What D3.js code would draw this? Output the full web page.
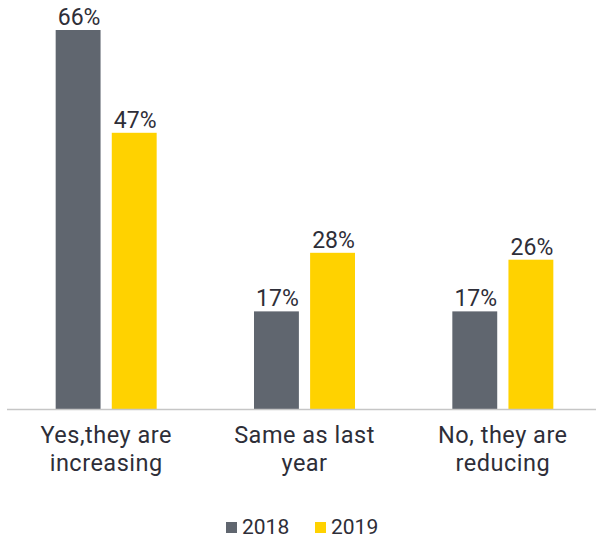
<!DOCTYPE html>
<html><head><meta charset="utf-8">
<script src="https://cdn.jsdelivr.net/npm/d3@7"></script>
<style>
html,body{margin:0;padding:0;background:#fff;}
text{font-family:Roboto,"Noto Sans",sans-serif;fill:#2e2e38;}
</style></head>
<body><svg id="c" width="596" height="538"></svg>
<script>
const categories = [["Yes,they are","increasing"],["Same as last","year"],["No, they are","reducing"]];
const categoryKeys = ["Yes,they are increasing","Same as last year","No, they are reducing"];
const series = ["2018","2019"];
const values2018 = [66, 17, 17];
const values2019 = [48.1, 27.2, 26];
const labels2018 = ["66%","17%","17%"];
const labels2019 = ["47%","28%","26%"];
const colors = ["#60666f","#ffd200"];

const svg = d3.select("#c");
const baseY = 409, topY = 30;
const y = d3.scaleLinear().domain([0,66]).range([baseY, topY]);
const x0 = d3.scaleBand().domain(categoryKeys).range([7, 602]);
const bw = x0.bandwidth();
const x1 = d3.scaleBand().domain(series).range([bw/2-50.5, bw/2+50.5]).paddingInner(0.2);
const color = d3.scaleOrdinal().domain(series).range(colors);

const rows = categoryKeys.map((k,i)=>({k, vals:[
  {s:"2018", v:values2018[i], l:labels2018[i]},
  {s:"2019", v:values2019[i], l:labels2019[i]}]}));

const g = svg.selectAll("g.grp").data(rows).enter().append("g")
  .attr("transform", d=>`translate(${x0(d.k)},0)`);
g.selectAll("rect").data(d=>d.vals).enter().append("rect")
  .attr("x", d=>x1(d.s)).attr("width", x1.bandwidth())
  .attr("y", d=>y(d.v)).attr("height", d=>baseY - y(d.v))
  .attr("fill", d=>color(d.s));
g.selectAll("text.val").data(d=>d.vals).enter().append("text")
  .attr("class","val")
  .attr("x", d=>x1(d.s)+x1.bandwidth()/2+1).attr("y", d=>y(d.v)-5)
  .attr("text-anchor","middle").style("font-size","23px").style("font-weight","400")
  .text(d=>d.l);

svg.append("line").attr("x1",7).attr("x2",596).attr("y1",baseY+0.5).attr("y2",baseY+0.5)
  .attr("stroke","#c6c6c6").attr("stroke-width",1.5);

const xAxis = svg.append("g").attr("transform",`translate(0,${baseY})`)
  .call(d3.axisBottom(x0).tickSize(0).tickFormat(""));
xAxis.select(".domain").remove();
xAxis.selectAll(".tick").each(function(d,i){
  const t = d3.select(this).append("text").attr("text-anchor","middle")
    .style("font-size","23.5px").style("font-weight","400").style("letter-spacing","0.5px")
    .attr("fill","#2e2e38");
  categories[i].forEach((line,j)=>{
    t.append("tspan").attr("x",0).attr("y",34+j*28).text(line);
  });
});

const legendX = [226, 315];
const lg = svg.selectAll("g.lg").data(series).enter().append("g")
  .attr("transform",(d,i)=>`translate(${legendX[i]},522)`);
lg.append("rect").attr("width",11).attr("height",11).attr("fill",d=>color(d));
lg.append("text").attr("x",16).attr("y",11.5).style("font-size","21px").style("font-weight","400").text(d=>d);
</script></body></html>
